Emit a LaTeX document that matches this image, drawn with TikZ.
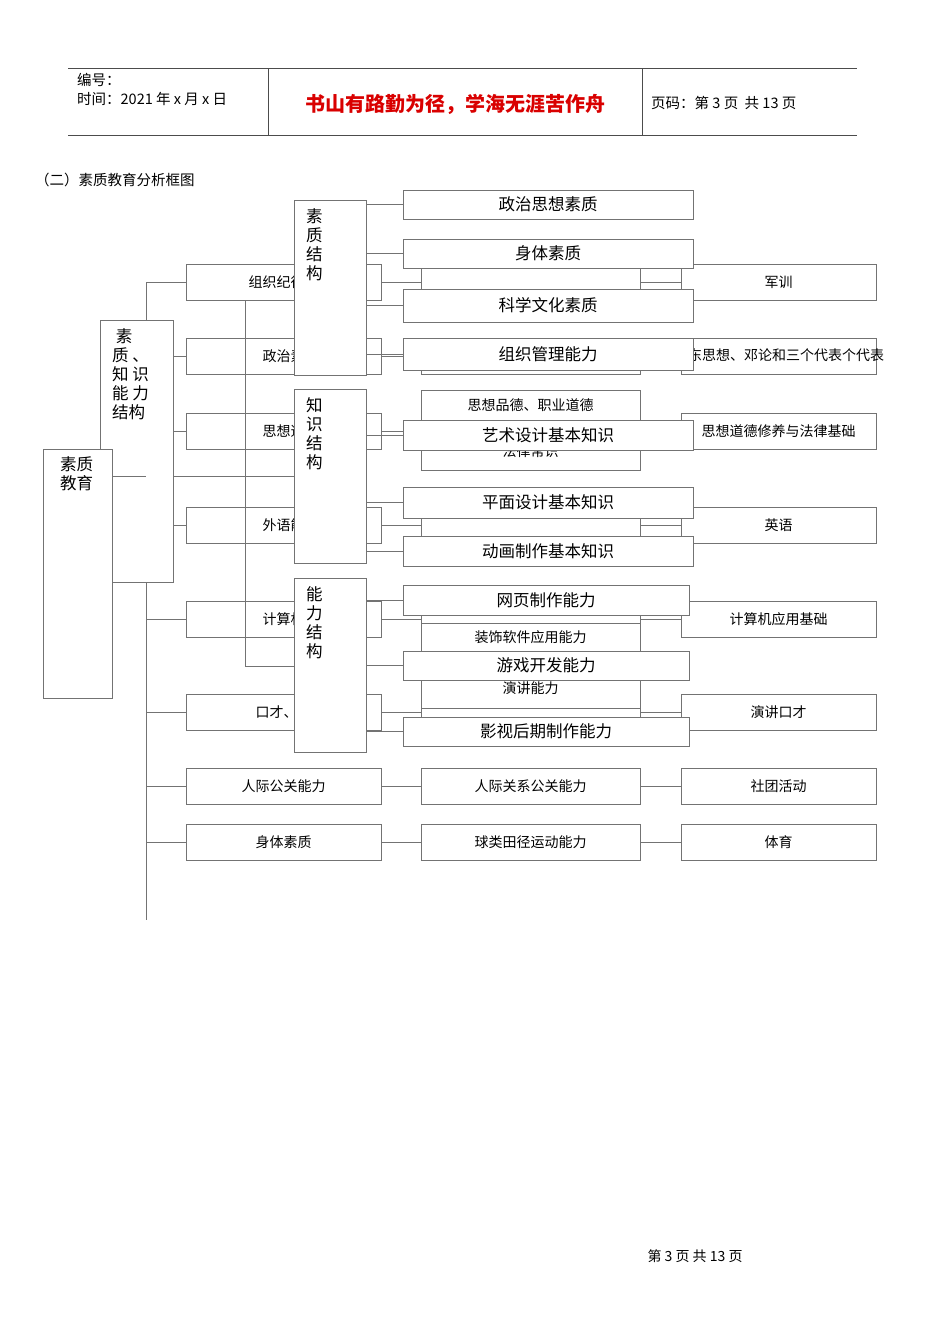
\documentclass[tikz,border=0pt]{standalone}
\usepackage{fontspec}
\setmainfont{Noto Sans CJK SC}
\begin{document}
\begin{tikzpicture}[x=1pt,y=-1pt,
  bx/.style={draw=black!55,line width=0.7pt,fill=white},
  ln/.style={draw=black!55,line width=0.7pt},
  t/.style={font=\fontsize{14}{16}\selectfont,inner sep=0pt},
  tb/.style={font=\fontsize{16.5}{19}\selectfont,inner sep=0pt}]
\useasboundingbox[fill=white] (0,0) rectangle (950,1344);
% header
\draw[ln,black!70] (68,68) -- (857,68) (68,135) -- (857,135) (268,68) -- (268,135) (642,68) -- (642,135);
\node[t,anchor=west,font=\fontsize{14.5}{16}\selectfont] (h1) at (77,80) {编号：};
\node[t,anchor=west,font=\fontsize{14.5}{16}\selectfont] (h2) at (77,99) {时间：2021 年 x 月 x 日};
\node[inner sep=0pt,text=red!85!black,font=\fontsize{20}{22}\selectfont\bfseries] (h3) at (455,104) {书山有路勤为径，学海无涯苦作舟};
\node[t,anchor=west,font=\fontsize{14.5}{16}\selectfont] (h4) at (651,103) {页码：第 3 页\ \ 共 13 页};
\node[t,anchor=west,font=\fontsize{14.5}{16}\selectfont] (title) at (35,180) {（二）素质教育分析框图};
\node[t] (foot) at (695,1256) {第\ 3\ 页\ 共\ 13\ 页};
% base layer
\draw[ln] (146,282) -- (146,920);
\foreach \y/\l/\r in {282/组织纪律军/军训,356/政治素/{},431/思想道/思想道德修养与法律基础,525/外语能/英语,619/计算机/计算机应用基础,712/口才、写/演讲口才,786/人际公关能力/社团活动,842/身体素质/体育}{
  \draw[ln] (146,\y) -- (186,\y) (381,\y) -- (421,\y) (640,\y) -- (681,\y);
  \node[bx,minimum width=195,minimum height=36] (L\y) at (283.5,\y) {};
  \node[t] at (283.5,\y) {\l};
  \node[bx,minimum width=219,minimum height=36] (M\y) at (530.5,\y) {};
  \node[bx,minimum width=195,minimum height=36] (R\y) at (778.5,\y) {};
  \node[t] at (778.5,\y) {\r};
}
\node[t] at (530.5,786) {人际关系公关能力};
\node[t] at (530.5,842) {球类田径运动能力};
\node[t,anchor=west] at (688,355) {东思想、邓论和三个代表个代表};
\node[bx,minimum width=219,minimum height=45,anchor=north west] at (421,425) {};
\node[t] at (530.5,451) {法律常识};
\node[bx,minimum width=219,minimum height=30,anchor=north west] at (421,390) {};
\node[t] at (530.5,405) {思想品德、职业道德};
\node[bx,minimum width=219,minimum height=30,anchor=north west] at (421,678) {};
\node[t] at (530.5,688) {演讲能力};
\node[bx,minimum width=219,minimum height=30,anchor=north west] at (421,623) {};
\node[t] at (530.5,637) {装饰软件应用能力};
\draw[ln] (245,300) -- (245,666) -- (294,666);
\draw[ln] (173,476) -- (294,476);
\node[bx,minimum width=73,minimum height=262,anchor=north west] (skn) at (100,320) {};
\node[tb,anchor=north west,align=left] at (112,328) {\ 素\\质\ 、\\知\ 识\\能\ 力\\结构};
\draw[ln] (112,476) -- (146,476);
\node[bx,minimum width=69,minimum height=249,anchor=north west] (root) at (43,449) {};
\node[tb,anchor=north west,align=left] at (60,456) {素质\\教育};
% overlay columns
\foreach \n/\a/\b/\txt in {c1/200/375/{素\\质\\结\\构},c2/389/563/{知\\识\\结\\构},c3/578/752/{能\\力\\结\\构}}{
  \node[bx,minimum width=72,minimum height=\b-\a,anchor=north west] (\n) at (294,\a) {};
  \node[tb,anchor=north west,align=left] at (306,\a+8) {\txt};
}
\foreach \y/\h/\w/\txt in {190/29/290/政治思想素质,239/29/290/身体素质,289/33/290/科学文化素质,338/32/290/组织管理能力,420/30/290/艺术设计基本知识,487/31/290/平面设计基本知识,536/30/290/动画制作基本知识,585/30/286/网页制作能力,651/29/286/游戏开发能力,717/29/286/影视后期制作能力}{
  \draw[ln] (366,\y+\h/2) -- (403,\y+\h/2);
  \node[bx,minimum width=\w,minimum height=\h,anchor=north west] at (403,\y) {};
  \node[tb] at (403+\w/2,\y+\h/2) {\txt};
}
\end{tikzpicture}
\end{document}
